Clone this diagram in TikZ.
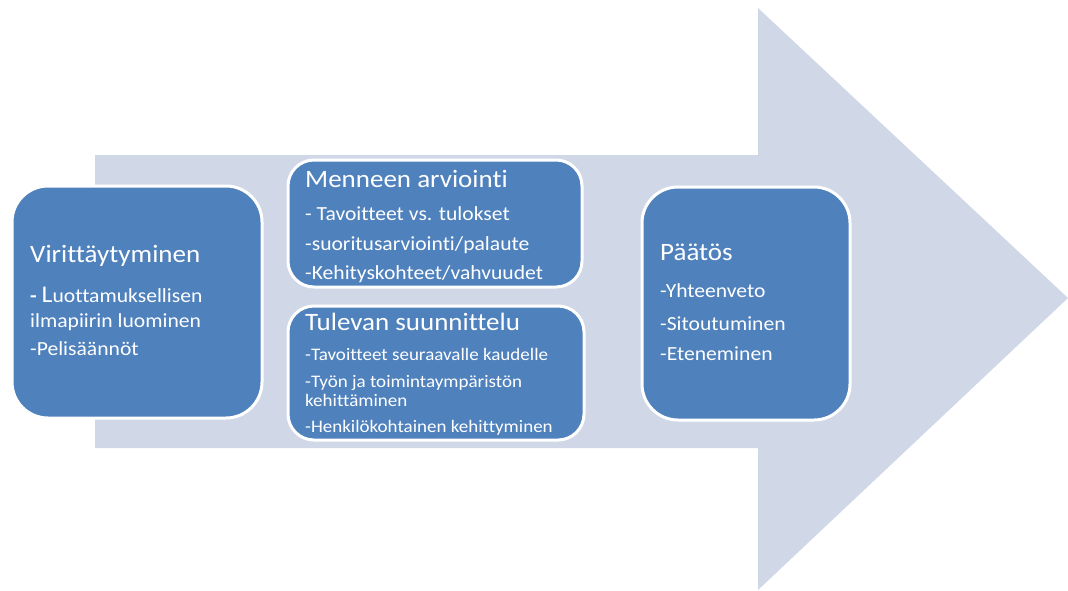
\documentclass[tikz,border=0pt]{standalone}
\usepackage{fontspec}
\setmainfont{Carlito}[FakeStretch=1.08, Ligatures=NoCommon]
\definecolor{arrowfill}{HTML}{D0D8E8}
\definecolor{boxfill}{HTML}{4F81BD}
\begin{document}
\begin{tikzpicture}[x=1pt,y=-1pt,
  card/.style={draw=white, line width=3pt, fill=boxfill, inner sep=0pt},
  ttl/.style={anchor=base west, text=white, inner sep=0pt, font=\fontsize{25}{28}\selectfont},
  itm/.style={anchor=base west, text=white, inner sep=0pt, font=\fontsize{20}{23}\selectfont},
  sitm/.style={anchor=base west, text=white, inner sep=0pt, font=\fontsize{17.6}{20}\selectfont}]
\useasboundingbox (0,0) rectangle (1068,590);
% big arrow
\fill[arrowfill] (95,155) -- (758,155) -- (758,8) -- (1068,298) -- (758,590) -- (758,448) -- (95,448) -- cycle;
% boxes
\path[card, rounded corners=36pt] (12,186) rectangle (262,418);
\path[card, rounded corners=26pt] (288,160) rectangle (582,287);
\path[card, rounded corners=26pt] (288,306) rectangle (584,440);
\path[card, rounded corners=36pt] (642,187) rectangle (850,420);
% box 1 text
\node[ttl] (t1) at (30,262) {Virittäytyminen};
\node[itm] (t1a) at (30,302) {\textbf{-} {\fontsize{24}{26}\selectfont L}uottamuksellisen};
\node[itm] (t1b) at (30,327) {ilmapiirin luominen};
\node[itm] (t1c) at (30,355) {-Pelisäännöt};
% box 2 text
\node[ttl] (t2) at (305,187) {Menneen arviointi};
\node[itm] (t2a) at (305,220) {- Tavoitteet vs. tulokset};
\node[itm] (t2b) at (305,250) {-suoritusarviointi/palaute};
\node[itm] (t2c) at (305,279) {-Kehityskohteet/vahvuudet};
% box 3 text
\node[ttl] (t3) at (305,330) {Tulevan suunnittelu};
\node[sitm] (t3a) at (305,360) {-Tavoitteet seuraavalle kaudelle};
\node[sitm] (t3b) at (305,387) {-Työn ja toimintaympäristön};
\node[sitm] (t3c) at (305,406) {kehittäminen};
\node[sitm] (t3d) at (305,432) {-Henkilökohtainen kehittyminen};
% box 4 text
\node[ttl] (t4) at (660,260) {Päätös};
\node[itm] (t4a) at (660,297) {-Yhteenveto};
\node[itm] (t4b) at (660,330) {-Sitoutuminen};
\node[itm] (t4c) at (660,360) {-Eteneminen};
\end{tikzpicture}
\end{document}
